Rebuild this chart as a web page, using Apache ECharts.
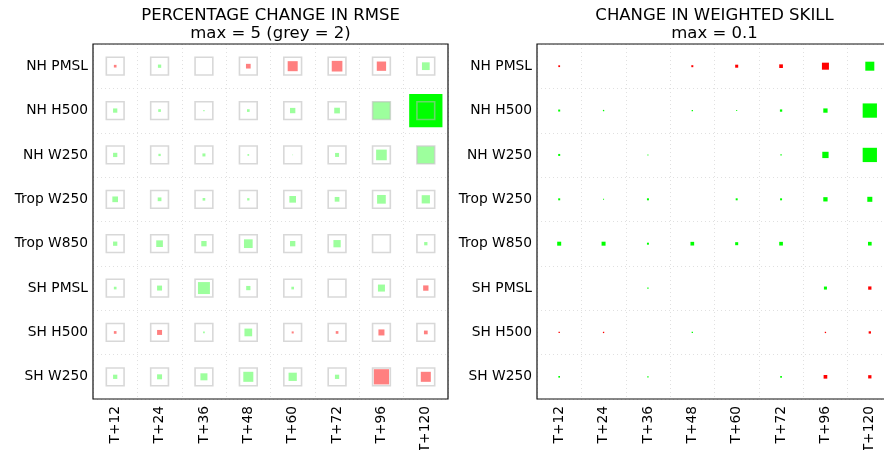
<!DOCTYPE html>
<html>
<head>
<meta charset="utf-8">
<script src="https://cdn.jsdelivr.net/npm/echarts@6/dist/echarts.min.js"></script>
<style>html,body{margin:0;padding:0;background:#fff}#c{width:884px;height:450px}</style>
</head>
<body>
<div id="c"></div>
<script>
// ---- data ----
const rows = ['NH PMSL', 'NH H500', 'NH W250', 'Trop W250', 'Trop W850', 'SH PMSL', 'SH H500', 'SH W250'];
const leadTimes = ['T+12', 'T+24', 'T+36', 'T+48', 'T+60', 'T+72', 'T+96', 'T+120'];

// Percentage change in RMSE (positive = RMSE increase / worse, negative = improvement)
const rmseNHPMSL   = [0.30, -0.37, 0, 0.53, 1.13, 1.20, 1.05, -0.87];
const rmseNHH500   = [-0.48, -0.30, -0.15, -0.30, -0.60, -0.64, -2.00, -3.75];
const rmseNHW250   = [-0.48, -0.26, -0.34, -0.19, -0.08, -0.45, -1.20, -1.95];
const rmseTropW250 = [-0.64, -0.42, -0.30, -0.26, -0.75, -0.53, -0.98, -0.93];
const rmseTropW850 = [-0.48, -0.75, -0.60, -0.98, -0.60, -0.82, 0, -0.37];
const rmseSHPMSL   = [-0.30, -0.56, -1.35, -0.48, -0.30, 0, -0.79, 0.60];
const rmseSHH500   = [0.30, 0.56, -0.19, -0.87, 0.23, 0.30, 0.68, 0.42];
const rmseSHW250   = [-0.48, -0.56, -0.79, -1.13, -0.93, -0.48, 1.72, 1.13];
const rmseMax = 5;
const rmseGrey = 2;
const rmseStrong = 3;

// Change in weighted skill (positive = better)
const skillNHPMSL   = [-0.0040, 0, 0, -0.0045, -0.0068, -0.0083, -0.0158, 0.0203];
const skillNHH500   = [0.0045, 0.0030, 0, 0.0030, 0.0023, 0.0052, 0.0097, 0.0322];
const skillNHW250   = [0.0045, 0, 0.0023, 0, 0, 0.0030, 0.0142, 0.0322];
const skillTropW250 = [0.0045, 0.0023, 0.0045, 0, 0.0045, 0.0045, 0.0097, 0.0113];
const skillTropW850 = [0.0090, 0.0090, 0.0045, 0.0083, 0.0068, 0.0083, 0, 0.0083];
const skillSHPMSL   = [0, 0, 0.0030, 0, 0, 0, 0.0068, -0.0074];
const skillSHH500   = [-0.0030, -0.0030, 0, 0.0030, 0, 0, -0.0030, -0.0052];
const skillSHW250   = [0.0038, 0, 0.0030, 0, 0, 0.0038, -0.0083, -0.0074];
const skillMax = 0.1;

const rmseRows = [rmseNHPMSL, rmseNHH500, rmseNHW250, rmseTropW250, rmseTropW850, rmseSHPMSL, rmseSHH500, rmseSHW250];
const skillRows = [skillNHPMSL, skillNHH500, skillNHW250, skillTropW250, skillTropW850, skillSHPMSL, skillSHH500, skillSHW250];

// ---- build ----
const plotSize = 355;
const cell = plotSize / leadTimes.length;
const font = 'DejaVu Sans';

function toPoints(table) {
  const out = [];
  table.forEach((r, ri) => r.forEach((v, ci) => { if (v !== 0) out.push([ci, ri, v]); }));
  return out;
}
const rmsePts = toPoints(rmseRows);
const skillPts = toPoints(skillRows);
const greyPts = [];
rows.forEach((r, ri) => leadTimes.forEach((t, ci) => greyPts.push([ci, ri, rmseGrey])));

const grids = [
  { left: 93, top: 44, width: plotSize, height: plotSize },
  { left: 537, top: 44, width: plotSize, height: plotSize }
];

const splitStyle = { color: '#e0e0e0', type: [1, 3], width: 1 };

function xAx(i) {
  return {
    type: 'category', gridIndex: i, data: leadTimes, boundaryGap: true, z: 0,
    axisLine: { show: false }, axisTick: { show: false },
    axisLabel: { rotate: 90, margin: 7, fontSize: 13.8, color: '#000', fontFamily: font, interval: 0 },
    splitLine: { show: true, interval: 0, lineStyle: splitStyle }
  };
}
function yAx(i) {
  return {
    type: 'category', gridIndex: i, data: rows, inverse: true, boundaryGap: true, z: 0,
    axisLine: { show: false }, axisTick: { show: false },
    axisLabel: { margin: 5, fontSize: 13.8, color: '#000', fontFamily: font, interval: 0 },
    splitLine: { show: true, interval: 0, lineStyle: splitStyle }
  };
}

const titleStyle = { fontFamily: font, fontSize: 16.5, fontWeight: 'normal', color: '#000', lineHeight: 18.5 };

const chart = echarts.init(document.getElementById('c'), null, { renderer: 'canvas' });
chart.setOption({
  animation: false,
  backgroundColor: '#fff',
  title: [
    {
      text: 'PERCENTAGE CHANGE IN RMSE\nmax = ' + rmseMax + ' (grey = ' + rmseGrey + ')',
      left: 93 + plotSize / 2, top: 6, textAlign: 'center', padding: 0,
      textStyle: titleStyle
    },
    {
      text: 'CHANGE IN WEIGHTED SKILL\nmax = ' + skillMax,
      left: 537 + plotSize / 2, top: 6, textAlign: 'center', padding: 0,
      textStyle: titleStyle
    }
  ],
  grid: grids.map(g => Object.assign({
    show: true, z: 1, borderColor: '#111', borderWidth: 1.2,
    backgroundColor: 'rgba(0,0,0,0)', outerBoundsMode: 'none', containLabel: false
  }, g)),
  xAxis: [xAx(0), xAx(1)],
  yAxis: [yAx(0), yAx(1)],
  series: [
    {
      type: 'scatter', xAxisIndex: 0, yAxisIndex: 0, symbol: 'rect', z: 2,
      data: rmsePts,
      symbolSize: d => Math.abs(d[2]) / rmseMax * cell,
      itemStyle: {
        opacity: 1,
        color: p => {
          const v = p.data[2];
          if (v < 0) return Math.abs(v) >= rmseStrong ? '#00ff00' : '#9dff9d';
          return '#ff8080';
        }
      }
    },
    {
      type: 'scatter', xAxisIndex: 0, yAxisIndex: 0, symbol: 'rect', z: 3,
      data: greyPts,
      symbolSize: d => d[2] / rmseMax * cell,
      itemStyle: { color: 'rgba(0,0,0,0)', borderColor: 'rgba(185,185,185,0.7)', borderWidth: 1.6 }
    },
    {
      type: 'scatter', xAxisIndex: 1, yAxisIndex: 1, symbol: 'rect', z: 2,
      data: skillPts,
      symbolSize: d => Math.abs(d[2]) / skillMax * cell,
      itemStyle: {
        opacity: 1,
        color: p => p.data[2] > 0 ? '#00ff00' : '#ff0000'
      }
    }
  ]
});
</script>
</body>
</html>
